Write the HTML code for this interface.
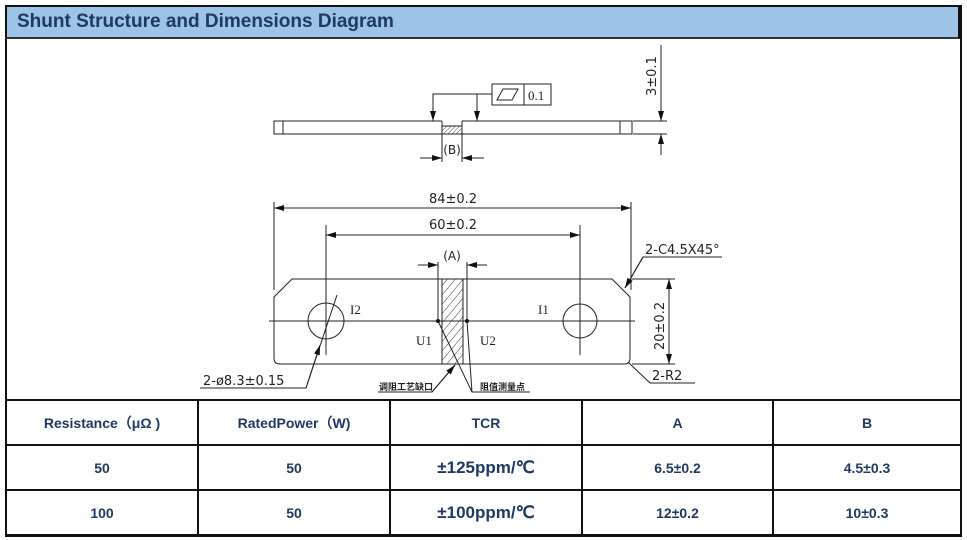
<!DOCTYPE html>
<html><head><meta charset="utf-8"><style>
body{margin:0;background:#fff;width:967px;height:540px;overflow:hidden;position:relative;font-family:"Liberation Sans",sans-serif}
.hdr{position:absolute;left:5px;top:5px;width:955px;height:34px;background:#9dc3e6;border:2px solid #111;border-bottom:2px solid #333;box-sizing:border-box}
.hdr span{position:absolute;left:10px;top:4px;font-size:19px;font-weight:bold;color:#1f3864}
.frame{position:absolute;left:5px;top:5px;width:957px;height:532px;border:2px solid #111;box-sizing:border-box}
table{position:absolute;left:5px;top:399px;border-collapse:collapse;width:957px}
td{border:2px solid #111;height:43px;text-align:center;font-weight:bold;color:#1f3864;font-size:14px;padding:0}
td.big{font-size:17px}
svg{position:absolute;left:0;top:0}
svg text{font-family:"DejaVu Sans",sans-serif;fill:#222}
</style></head><body>
<div class="frame"></div>
<div class="hdr"><span>Shunt Structure and Dimensions Diagram</span></div>
<svg width="967" height="540" viewBox="0 0 967 540">
<defs>
<pattern id="h" width="6" height="6" patternUnits="userSpaceOnUse" patternTransform="rotate(40)"><line x1="0" y1="0" x2="0" y2="6" stroke="#222" stroke-width="0.9"/></pattern>
<pattern id="h2" width="3" height="3" patternUnits="userSpaceOnUse" patternTransform="rotate(45)"><line x1="0" y1="0" x2="0" y2="3" stroke="#222" stroke-width="0.8"/></pattern>
<marker id="a" markerWidth="10" markerHeight="6" refX="10" refY="3" orient="auto" markerUnits="userSpaceOnUse"><path d="M0,0L10,3L0,6z" fill="#111"/></marker>
</defs>
<g stroke="#222" stroke-width="1" fill="none">
<path d="M442,121H274V134H442M462,121H632V134H462"/>
<line x1="283" y1="121" x2="283" y2="134"/><line x1="620" y1="121" x2="620" y2="134"/>
<rect x="442" y="126" width="20" height="8" fill="url(#h2)"/>
<line x1="442" y1="121" x2="442" y2="162"/><line x1="462" y1="121" x2="462" y2="162"/>
<line x1="420" y1="158" x2="442" y2="158" marker-end="url(#a)"/><line x1="484" y1="158" x2="462" y2="158" marker-end="url(#a)"/>
<rect x="492" y="84" width="59" height="21"/><line x1="524" y1="84" x2="524" y2="105"/>
<path d="M497,100L503,89H518L512,100Z"/>
<path d="M492,94H433V121" marker-end="url(#a)"/><line x1="477" y1="94" x2="477" y2="121" marker-end="url(#a)"/>
<line x1="633" y1="121" x2="667" y2="121"/><line x1="633" y1="134" x2="667" y2="134"/>
<line x1="661" y1="45" x2="661" y2="121" marker-end="url(#a)"/><line x1="661" y1="155" x2="661" y2="134" marker-end="url(#a)"/>
<path d="M292,279H612L630,297V358Q630,364 624,364H280Q274,364 274,358V297Z"/>
<rect x="442" y="279" width="21" height="85" fill="url(#h)"/>
<line x1="438" y1="262" x2="438" y2="321"/><line x1="467" y1="262" x2="467" y2="321"/>
<line x1="418" y1="265" x2="438" y2="265" marker-end="url(#a)"/><line x1="487" y1="265" x2="467" y2="265" marker-end="url(#a)"/>
<line x1="269" y1="321" x2="635" y2="321"/>
<circle cx="326" cy="321" r="18"/><circle cx="580" cy="321" r="17"/>
<line x1="326" y1="225" x2="326" y2="355"/><line x1="580" y1="225" x2="580" y2="355"/>
<line x1="274" y1="202" x2="274" y2="290"/><line x1="631" y1="202" x2="631" y2="290"/>
<line x1="290" y1="208" x2="274" y2="208" marker-end="url(#a)"/><line x1="290" y1="208" x2="615" y2="208"/><line x1="615" y1="208" x2="631" y2="208" marker-end="url(#a)"/>
<line x1="340" y1="235" x2="326" y2="235" marker-end="url(#a)"/><line x1="340" y1="235" x2="566" y2="235"/><line x1="566" y1="235" x2="580" y2="235" marker-end="url(#a)"/>
<line x1="632" y1="279" x2="675" y2="279"/><line x1="632" y1="364" x2="675" y2="364"/>
<line x1="669" y1="300" x2="669" y2="279" marker-end="url(#a)"/><line x1="669" y1="300" x2="669" y2="343"/><line x1="669" y1="343" x2="669" y2="364" marker-end="url(#a)"/>
<path d="M722,257H643L625,288" /><path d="M643,257L625,288" marker-end="url(#a)"/>
<path d="M695,383H650L628,362"/>
<path d="M200,388H306L337,295"/><path d="M306,388L320,345" marker-end="url(#a)"/>
<path d="M378,392H432L455,365" /><path d="M432,392L455,365" marker-end="url(#a)"/>
<path d="M438,321L472,392H530M467,321L472,392"/>
</g>
<circle cx="438" cy="321" r="2" fill="#111"/><circle cx="467" cy="321" r="2" fill="#111"/>
<g font-size="13">
<text x="452" y="154" text-anchor="middle" font-size="12">(B)</text>
<text x="528" y="100" style="font-family:'Liberation Serif'">0.1</text>
<text transform="translate(656,96) rotate(-90)" font-size="13">3±0.1</text>
<text x="453" y="203" text-anchor="middle">84±0.2</text>
<text x="453" y="229" text-anchor="middle">60±0.2</text>
<text x="452" y="260" text-anchor="middle" font-size="12">(A)</text>
<text x="645" y="254">2-C4.5X45°</text>
<text transform="translate(664,350) rotate(-90)">20±0.2</text>
<text x="652" y="380">2-R2</text>
<text x="203" y="385">2-ø8.3±0.15</text>
<text x="350" y="314" style="font-family:'Liberation Serif'">I2</text>
<text x="538" y="314" style="font-family:'Liberation Serif'">I1</text>
<text x="416" y="345" style="font-family:'Liberation Serif'">U1</text>
<text x="480" y="345" style="font-family:'Liberation Serif'">U2</text>
<text x="379" y="390" font-size="9" font-weight="bold" style="font-family:'Noto Sans CJK SC'">调阻工艺缺口</text>
<text x="480" y="390" font-size="9" font-weight="bold" style="font-family:'Noto Sans CJK SC'">阻值测量点</text>
</g>
</svg>
<table>
<tr><td style="width:190px">Resistance（μΩ )</td><td style="width:190px">RatedPower（W)</td><td style="width:190px">TCR</td><td style="width:189px">A</td><td>B</td></tr>
<tr><td>50</td><td>50</td><td class="big">±125ppm/℃</td><td>6.5±0.2</td><td>4.5±0.3</td></tr>
<tr><td>100</td><td>50</td><td class="big">±100ppm/℃</td><td>12±0.2</td><td>10±0.3</td></tr>
</table>
</body></html>
